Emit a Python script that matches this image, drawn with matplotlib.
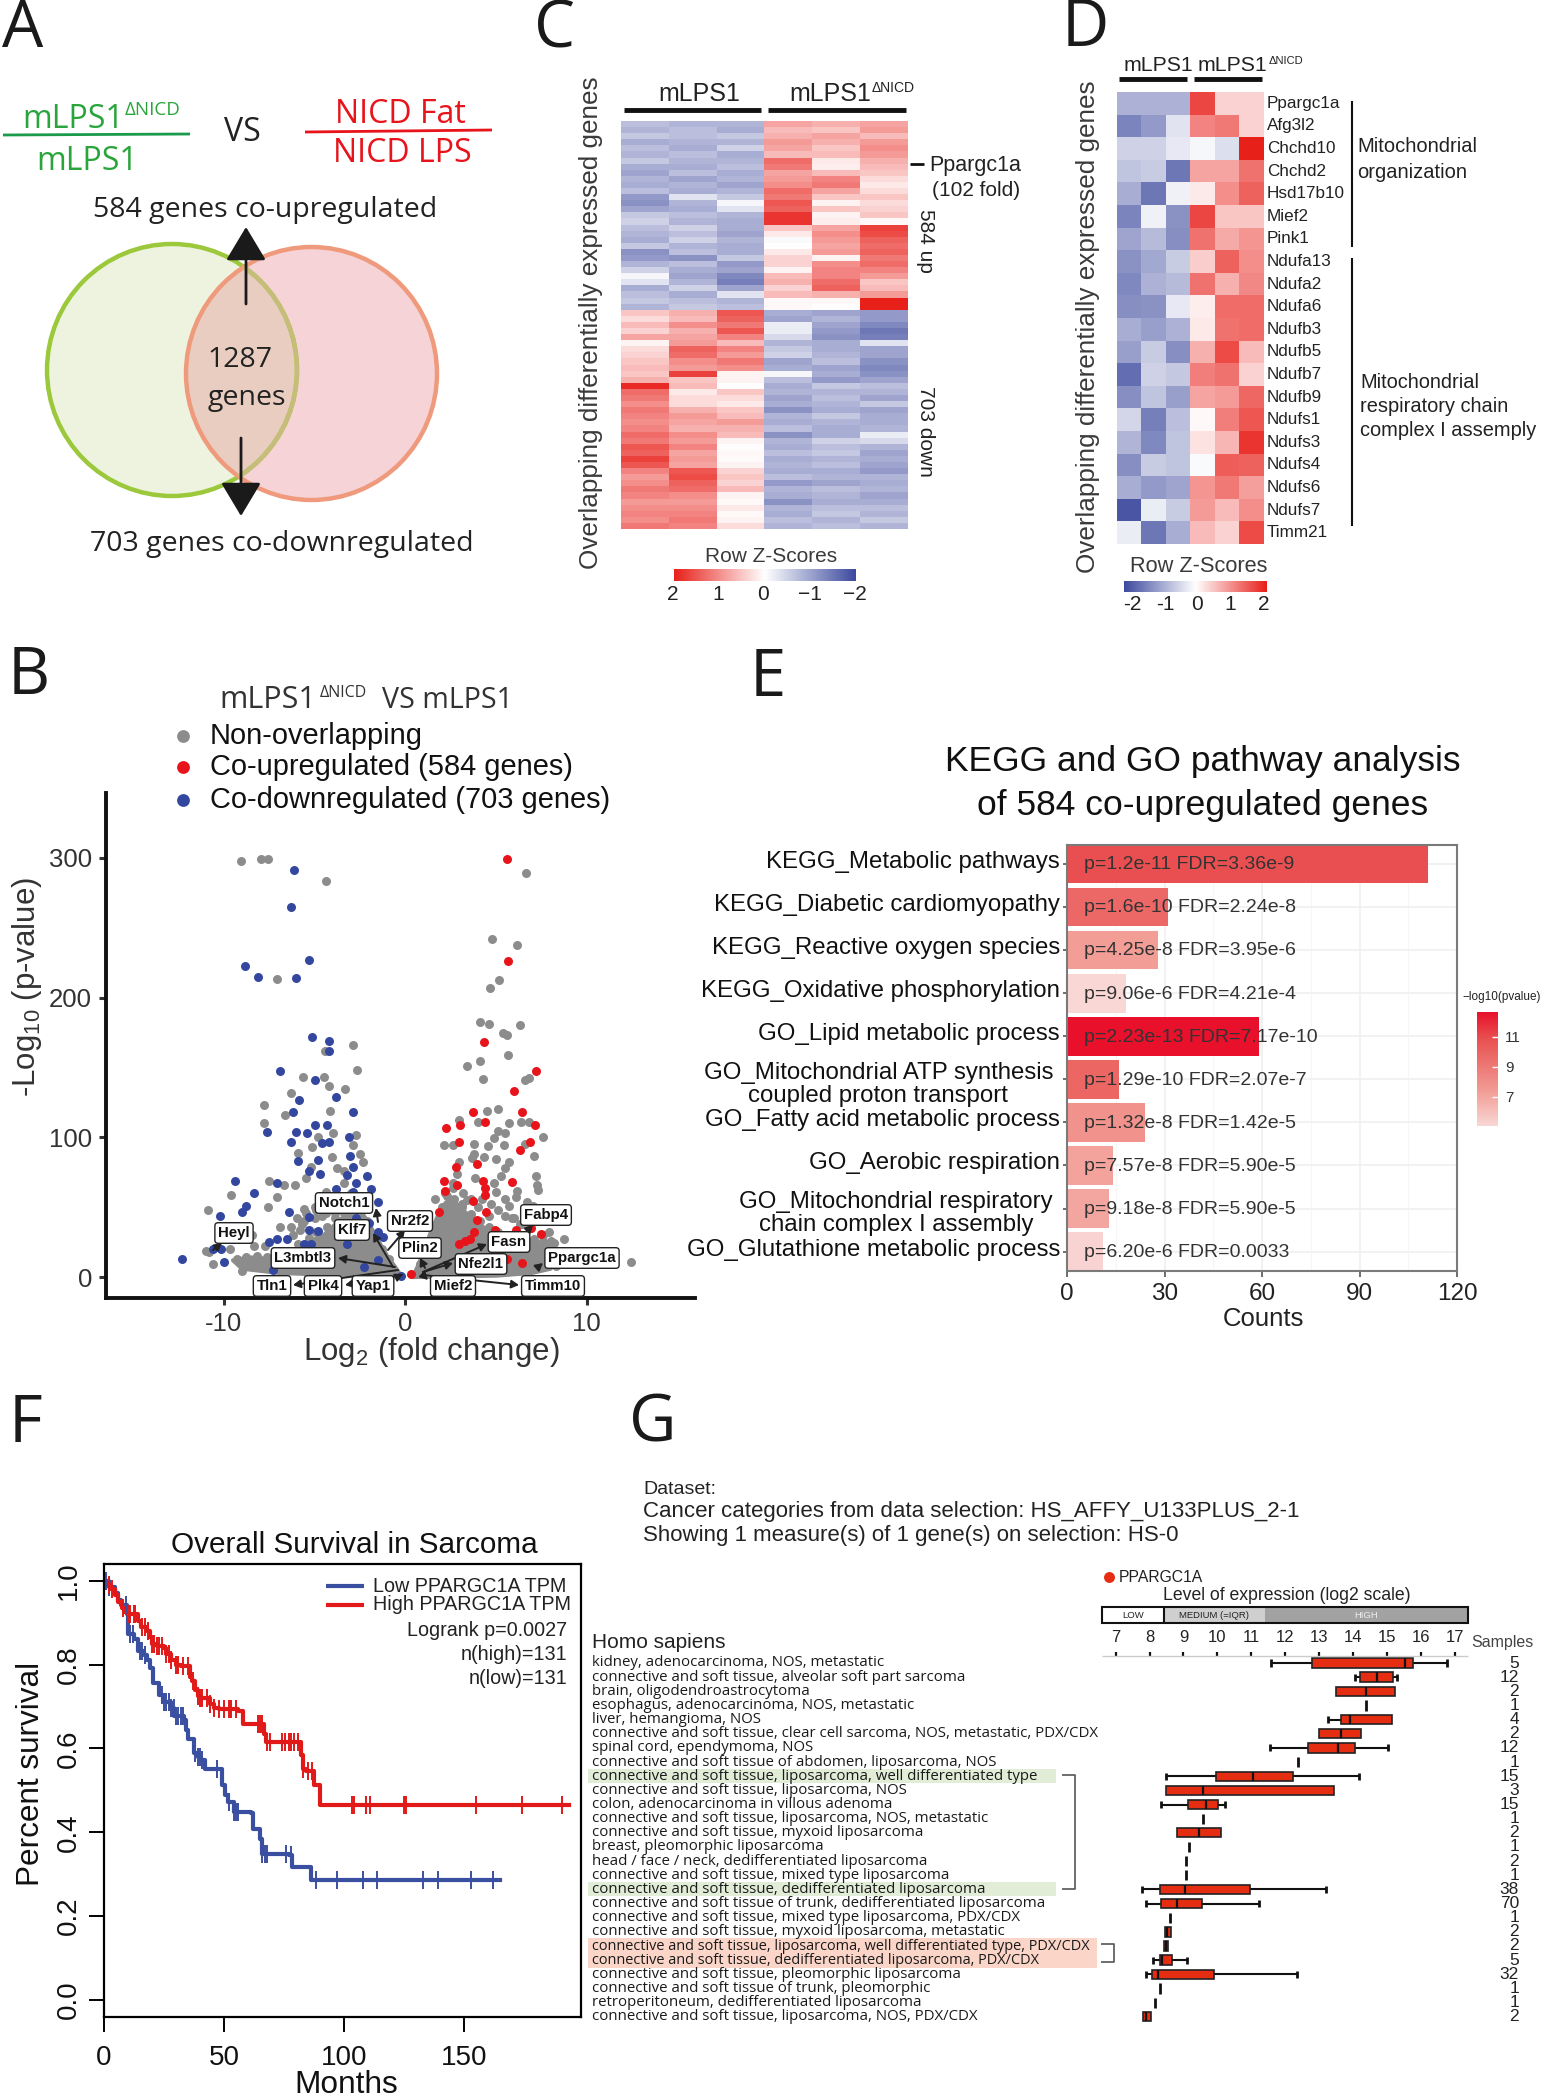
import numpy as np
import matplotlib
matplotlib.use("Agg")
import matplotlib.pyplot as plt
from matplotlib.colors import LinearSegmentedColormap, Normalize
from matplotlib.patches import Ellipse, Rectangle, FancyArrowPatch

W, H = 1541, 2100
plt.rcParams['font.family'] = ['Liberation Sans', 'DejaVu Sans']
plt.rcParams['mathtext.default'] = 'regular'
plt.rcParams['axes.unicode_minus'] = False
fig = plt.figure(figsize=(W / 100, H / 100), dpi=100, facecolor='white')

HUM = 'Open Sans'
INK = '#222222'

# ------------------------------------------------ data: panel C heat map
c_up = [
    [-.7, -.8, -.8, .8, .7, .8], [-.8, -.7, -.9, .6, .5, .9], [-.6, -.7, -.6, .7, .8, .6],
    [-.9, -.8, -.8, .9, .7, .9], [-.7, -.9, -.5, .8, .5, 1.0], [-.8, -.7, -.9, .6, .6, .9],
    [-.6, -.8, -.8, 1.3, .2, .7], [-.9, -.9, -.7, 1.2, .15, .6], [-1.0, -.7, -.9, .8, .6, .5],
    [-.8, -1.0, -.8, .9, 1.1, .3], [-.9, -.8, -1.0, 1.0, 1.2, .2], [-.7, -.9, -.8, 1.3, .8, .3],
    [-1.1, -.3, -.6, 1.2, .5, .5], [-1.2, -.8, -.1, 1.5, .1, .3], [-1.0, -.9, -.3, 1.4, .5, .4],
    [-.6, -.7, -.8, 1.8, .1, .5], [-.5, -.8, -.9, 1.8, .15, .05], [-.7, -.5, -.9, .5, .8, 1.7],
    [-.8, -.7, -1.0, .2, 1.0, 1.6], [-.9, -.5, -.8, -.05, .9, 1.4], [-.6, -.8, -.9, 0, .8, 1.3],
    [-1.2, -.7, -.9, .2, .9, 1.4], [-1.1, -1.2, -.6, .4, .1, 1.2], [-.8, -.7, -1.1, .4, 1.0, 1.3],
    [-.5, -.9, -1.0, .1, 1.1, 1.1], [-.1, -1.0, -1.3, .6, 1.1, .9], [-.3, -.8, -1.4, .7, 1.3, .5],
    [-.9, -.5, -1.0, .4, 1.4, .6], [-.7, -.9, -.3, .6, .7, .9], [-.6, -.7, -.8, .05, .05, 2.0],
    [-.8, -.6, -.7, .05, .02, 2.0],
]
c_down = [
    [.5, .7, 1.5, -.9, -1.0, -1.1], [.3, .6, 1.4, -1.0, -.8, -1.1], [.6, 1.0, 1.2, -.2, -1.0, -1.3],
    [.4, .7, 1.5, -.2, -1.1, -1.5], [.8, .8, 1.1, -.4, -1.2, -1.4], [.1, .9, .6, -.8, -.9, -.3],
    [.3, 1.4, 1.1, -.6, -.9, -1.0], [.4, 1.3, .9, -.5, -.8, -1.0], [.5, 1.0, 1.2, -1.0, -.7, -1.2],
    [.6, .9, 1.0, -.9, -1.0, -1.3], [.5, 1.7, .1, -.1, -.9, -1.2], [.7, .5, .1, -.7, -1.1, -1.0],
    [1.9, .6, .0, -.9, -.6, -.7], [1.3, .2, .5, -.8, -.8, -.8], [1.2, .3, .3, -1.0, -.7, -1.0],
    [1.0, .3, .2, -.9, -.8, -.6], [1.2, .7, .5, -1.2, -.9, -1.0], [1.1, .9, .6, -.8, -.6, -.9],
    [1.0, .8, .9, -.9, -.8, -.9], [1.1, .7, .7, -.7, -.9, -.8], [1.3, 1.0, .6, -1.2, -.9, -.2],
    [1.2, .9, .1, -.8, -.5, -.4], [1.5, 1.1, .03, -.9, -.7, -.8], [1.4, .8, .05, -.7, -.6, -1.0],
    [1.7, .9, .04, -.9, -.8, -.9], [1.5, .8, .1, -.8, -.7, -1.0], [1.1, 1.5, .4, -.9, -.9, -1.1],
    [.9, 1.6, .5, -.7, -.8, -.8], [1.0, 1.4, .4, -1.1, -1.0, -.9], [1.2, 1.3, .6, -.8, -.7, -.8],
    [1.1, 1.0, .1, -.9, -.8, -1.0], [.9, .9, .05, -1.2, -.9, -.9], [1.0, 1.0, .2, -.8, -.7, -.7],
    [1.1, 1.1, .05, -.9, -.6, -.8], [1.0, 1.2, .1, -.7, -.8, -.6], [1.2, 1.1, .3, -.8, -.7, -.8],
]
c_neg_ticks = ['2', '1', '0', '\u22121', '\u22122']

# ------------------------------------------------ data: panel D heat map
d_genes = ['Ppargc1a', 'Afg3l2', 'Chchd10', 'Chchd2', 'Hsd17b10', 'Mief2', 'Pink1', 'Ndufa13', 'Ndufa2',
           'Ndufa6', 'Ndufb3', 'Ndufb5', 'Ndufb7', 'Ndufb9', 'Ndufs1', 'Ndufs3', 'Ndufs4', 'Ndufs6',
           'Ndufs7', 'Timm21']
d_values = [
    [-.85, -.85, -.85, 1.65, .4, .4],
    [-1.35, -1.1, -.3, 1.1, 1.2, .4],
    [-.5, -.5, -.25, -.08, -.35, 2.0],
    [-.65, -.55, -1.5, .8, .8, 1.25],
    [-.9, -1.5, -.15, .18, 1.0, 1.4],
    [-1.35, -.15, -1.2, 1.65, .5, .5],
    [-1.0, -.75, -1.25, 1.25, .75, .95],
    [-1.2, -.95, -.55, .45, 1.4, 1.0],
    [-1.3, -.85, -.75, 1.25, .7, 1.05],
    [-1.25, -1.2, -.25, .15, 1.3, 1.3],
    [-.9, -1.05, -.85, .2, 1.25, 1.3],
    [-1.05, -.55, -1.25, .7, 1.6, .6],
    [-1.6, -.5, -.6, 1.15, 1.25, .4],
    [-1.25, -.65, -1.05, .8, .9, 1.35],
    [-.45, -1.4, -.7, .05, 1.15, 1.5],
    [-.8, -1.3, -.65, .25, .65, 1.8],
    [-1.25, -.55, -.65, -.05, 1.45, 1.4],
    [-.9, -1.1, -1.0, .95, 1.2, .85],
    [-1.85, -.2, -.55, .9, .6, 1.0],
    [-.2, -1.5, -.9, .6, .4, 1.6],
]

# ------------------------------------------------ data: panel B volcano
gray_x = [-9.07, -7.94, -7.58, -4.36, -7.08, -2.89, -4.43, -2.65, -5.63, -4.48, -4.19, -3.35, -6.3, -7.8, -4.16,
          -6.64, -7.82, -2.7, -4.8, -4.0, -2.89, -5.17, -5.94, -4.02, -2.5, -2.33, -5.2, -7.5, -6.67, -6.06,
          -5.46, -3.78, -3.4, -7.08, -9.63, -7.56, -10.88, -5.58, -4.62, -4.38, -3.4, -5.6, -5.8, -8.47, -8.35,
          -7.75, -11.0, -10.8, -9.67, -10.6, -9.0, -9.2, -4.9, -3.2, -2.6, -3.9, -3.0, -2.2, -6.9, -6.2,
          -9.3, -8.8, -8.2, -7.6, -7.0, -6.4, -5.9, -5.3, -4.9, -4.3, -3.9, -3.4, -2.9, -2.4, -2.1, -1.7, -1.3, -.9,
          -6.0, -5.5, -5.0, -4.5, -4.0, -3.5, -3.0, -2.5, -6.3, -5.7, -5.0, -4.4,
          4.79, 6.14, 5.15, 4.64, 6.64, 4.12, 4.6, 6.3, 5.37, 5.6, 5.63, 4.12, 3.37, 4.28, 6.57, 6.8, 5.13, 4.52,
          2.98, 4.02, 5.73, 6.38, 6.81, 5.13, 5.49, 7.56, 4.89, 2.12, 2.65, 3.8, 4.57, 5.42, 6.6, 3.8, 3.68, 4.33,
          5.0, 7.1, 2.98, 5.73, 5.49, 2.84, 3.85, 7.22, 7.27, 2.6, 6.14, 7.32, 5.0, 5.49, 7.05, 1.64, 5.73, 6.7,
          7.9, 8.76, 8.18, 12.42, 5.25, 6.09, 4.89, 3.4, 4.0, 4.6, 5.9, 6.3, 7.6, 8.0, 2.3, 3.1,
          .8, 1.2, 1.5, 1.9, 2.3, 2.7, 3.1, 3.6, 4.1, 4.6, 5.1, 5.6, 6.1, 6.6, 7.1, 7.6, 8.1, 8.5, 8.7, 8.3,
          2.2, 2.6, 3.2, 3.6, 4.2, 4.7, 5.1, 5.5, 6.0, 6.4, 6.8, 2.0]
gray_y = [298, 299.5, 299.5, 283.6, 213, 166, 162, 148, 143, 143, 137, 134.7, 132, 123, 119,
          116, 110, 102, 100.6, 103, 94.5, 93, 89, 86, 88, 82, 79, 69, 66, 66,
          71, 78, 76, 57, 59, 50, 48, 49, 44, 61, 67.5, 40, 34, 30, 22,
          22, 18.6, 18, 20, 9, 4.4, 12, 48, 58, 52, 46, 44, 38, 36, 30,
          13, 14, 15, 14, 16, 19, 24, 28, 32, 36, 42, 46, 50, 48, 40, 30, 20, 13,
          42, 46, 50, 52, 56, 58, 60, 56, 36, 38, 42, 46,
          241.7, 238, 212.7, 207, 289, 182.6, 181, 180.6, 175, 173, 159, 155, 151, 141.8, 141, 142.5, 120.5, 119,
          112.4, 111, 110, 111, 111, 104.7, 103, 100, 99.6, 94.5, 94.5, 95, 94, 94.5, 95, 88, 85.4, 86,
          84.4, 87, 82, 82, 78, 73.6, 71, 72.6, 66, 67.5, 61.5, 62.5, 60.8, 55.7, 50.6, 55.7, 50.6, 54,
          32, 27, 24.3, 10.8, 72.6, 57.4, 67.5, 55, 50, 44, 42, 38, 30, 26, 58, 52,
          9, 20, 30, 44, 52, 56, 50, 45, 40, 36, 32, 30, 30, 29, 27, 26, 24, 18, 12, 8,
          60, 64, 60, 56, 56, 52, 48, 44, 42, 38, 36, 50]
blue_x = [-6.15, -6.3, -5.3, -8.83, -8.1, -6.04, -5.15, -4.2, -4.2, -6.93, -5.0, -3.8, -5.87, -6.2, -2.9, -5.0, -4.3,
          -7.6, -6.04, -5.4, -3.1, -6.3, -4.6, -4.2, -5.9, -3.05, -4.8, -2.9, -5.3, -4.7, -3.2, -2.1, -2.7, -9.4,
          -7.1, -8.35, -3.8, -1.9, -2.9, -1.5, -8.8, -9.0, -6.4, -10.2, -5.3, -2.7, -2.0, -5.3, -4.8, -1.5, -1.25,
          -7.5, -7.1, -6.5, -5.6, -5.2, -3.2, -10.15, -10.6, -10.0, -12.3, -7.3, -2.3, -1.5, -0.25]
blue_y = [291.7, 265, 227, 223, 215, 214, 171.5, 169, 162, 147.5, 141, 129, 127, 118, 118, 109, 109,
          104, 104, 103, 100, 97, 96, 97, 83, 87, 84, 79, 76, 74, 73, 72.6, 67.5, 69,
          67, 60, 63, 63, 61, 54, 51, 46.6, 46.6, 44, 43, 42, 39, 34, 33, 32, 29,
          25, 27, 27, 24, 24, 24, 20, 20, 11, 13, 5, 7, 12, 1]
red_x = [5.6, 5.63, 4.33, 7.17, 6.0, 3.73, 6.43, 4.38, 3.03, 7.12, 2.26, 2.98, 6.84, 6.33, 3.97, 2.8, 4.3, 5.85, 2.14,
         4.36, 4.36, 2.84, 2.17, 3.7, 4.43, 1.83, 3.95, 6.93, 4.96, 6.09, 3.8, 7.46, 3.3, 2.96, 5.6, 6.45, 3.56, 0.3]
red_y = [299.5, 226, 168, 147.5, 133, 118, 118, 111, 109, 109, 107, 97, 97, 91, 81, 79, 68.5, 68, 68.5,
         63.5, 59, 66, 61.5, 54.7, 46.6, 46.6, 41, 35, 34, 34, 32, 31, 26, 24, 13, 10, 27, 2]
mass_left_x = [-9.5, -8.5, -7.5, -6.5, -5.5, -4.5, -3.5, -2.5, -2.0, -1.5, -1.0, -0.5, -0.2, -1.0, -5.0, -7.0, -9.0]
mass_left_y = [12, 14, 13, 16, 24, 30, 42, 48, 38, 26, 15, 6, 0, 1, 2, 3, 6]
mass_right_x = [.4, .7, 1.0, 1.4, 1.8, 2.2, 2.6, 3.0, 3.5, 4.0, 4.5, 5.0, 5.5, 6.0, 6.5, 7.0, 7.5, 8.0, 8.5, 8.0, 7.0, 5.0]
mass_right_y = [0, 8, 18, 32, 44, 52, 55, 50, 44, 38, 34, 30, 28, 28, 27, 26, 24, 22, 14, 6, 3, 1]
volcano_xticks = [-10, 0, 10]
volcano_yticks = [0, 100, 200, 300]
# gene name, label centre, arrow tail, arrow head (px of the figure)
gene_labels = [
    ('Notch1', (344, 1203), (378, 1222), (376, 1208)), ('Nr2f2', (410, 1221), (388, 1250), (405, 1230)),
    ('Klf7', (352, 1230), (393, 1267), (373, 1233)), ('Heyl', (234, 1233), (213, 1250), (222, 1243)),
    ('L3mbtl3', (303, 1258), (395, 1267), (338, 1258)), ('Plin2', (420, 1248), (425, 1268), (420, 1258)),
    ('Fabp4', (546, 1215), (523, 1235), (533, 1225)), ('Fasn', (509, 1242), (423, 1272), (487, 1244)),
    ('Nfe2l1', (481, 1264), (423, 1272), (453, 1263)), ('Ppargc1a', (582, 1258), (537, 1268), (543, 1263)),
    ('Tln1', (272, 1286), (398, 1270), (293, 1285)), ('Plk4', (323, 1286), (402, 1275), (345, 1285)),
    ('Yap1', (373, 1286), (397, 1277), (403, 1274)), ('Mief2', (453, 1286), (423, 1275), (428, 1280)),
    ('Timm10', (553, 1286), (423, 1275), (519, 1285)),
]

# ------------------------------------------------ data: panel E bars
e_terms = ['KEGG_Metabolic pathways', 'KEGG_Diabetic cardiomyopathy', 'KEGG_Reactive oxygen species',
           'KEGG_Oxidative phosphorylation', 'GO_Lipid metabolic process',
           'GO_Mitochondrial ATP synthesis\ncoupled proton transport', 'GO_Fatty acid metabolic process',
           'GO_Aerobic respiration', 'GO_Mitochondrial respiratory\nchain complex I assembly',
           'GO_Glutathione metabolic process']
e_counts = [111, 31, 28, 18, 59, 16, 24, 14, 13, 11]
e_pvalues = [1.2e-11, 1.6e-10, 4.25e-8, 9.06e-6, 2.23e-13, 1.29e-10, 1.32e-8, 7.57e-8, 9.18e-8, 6.20e-6]
e_notes = ['p=1.2e-11 FDR=3.36e-9', 'p=1.6e-10 FDR=2.24e-8', 'p=4.25e-8 FDR=3.95e-6', 'p=9.06e-6 FDR=4.21e-4',
           'p=2.23e-13 FDR=7.17e-10', 'p=1.29e-10 FDR=2.07e-7', 'p=1.32e-8 FDR=1.42e-5', 'p=7.57e-8 FDR=5.90e-5',
           'p=9.18e-8 FDR=5.90e-5', 'p=6.20e-6 FDR=0.0033']
e_ticks = [0, 30, 60, 90, 120]
e_cbar_ticks = [7, 9, 11]

# ------------------------------------------------ data: panel F survival
low_t = [0, 2, 4.6, 6, 7, 9.4, 10.2, 12.6, 14.2, 16.6, 18, 19, 20.6, 23, 24.6, 27.8, 29.3, 33.3, 34, 35, 37.3, 39, 40.5,
         42, 47.7, 49.3, 50.5, 51.7, 54, 61.2, 62, 65.2, 66, 77.2, 78.3, 86, 86.3, 165]
low_s = [1, .985, .97, .955, .942, .92, .874, .86, .833, .824, .81, .792, .755, .728, .71, .696, .678, .668, .645, .623, .59,
         .58, .573, .552, .55, .513, .49, .472, .449, .447, .408, .385, .349, .347, .317, .317, .287, .287]
low_censor = [1, 2, 9, 11, 12, 15, 16, 17, 24, 25, 26, 27, 28, 29, 30, 31, 32, 33, 38, 39, 40, 41, 47, 52, 54, 55, 56,
              66, 67, 68, 76, 78, 88.4, 97, 108, 113.9, 133, 139, 153, 162]
high_t = [0, 1.5, 3, 4.5, 6, 7.5, 8.5, 10, 14, 15.5, 18, 19, 20, 22, 25, 26, 28, 30, 32, 35.7, 36.5, 38, 39, 40, 44, 46,
          48, 55.7, 58, 66.8, 67.5, 82, 83, 84, 87.5, 90, 193.6]
high_s = [1, .99, .98, .965, .95, .935, .925, .92, .905, .89, .88, .865, .85, .845, .84, .825, .81, .80, .797, .77, .76,
          .74, .725, .72, .705, .696, .693, .69, .658, .635, .616, .585, .55, .547, .513, .465, .465]
high_censor = [2, 3.2, 8, 10, 11, 12.5, 13, 16, 17, 18.5, 20, 21, 22, 23, 24, 26, 27, 28, 30, 31, 33, 35, 37, 39, 40, 41,
               43, 44, 46, 48, 50, 52, 53, 55, 64, 65, 66, 68, 69, 74, 75.5, 77, 78, 79, 81, 83, 85, 86.5,
               103.5, 104.3, 109, 110.7, 125, 125.8, 155, 174, 191]
f_xticks = [0, 50, 100, 150]
f_yticks = [0.0, 0.2, 0.4, 0.6, 0.8, 1.0]

# ------------------------------------------------ data: panel G
g_rows = ['kidney, adenocarcinoma, NOS, metastatic', 'connective and soft tissue, alveolar soft part sarcoma',
          'brain, oligodendroastrocytoma', 'esophagus, adenocarcinoma, NOS, metastatic', 'liver, hemangioma, NOS',
          'connective and soft tissue, clear cell sarcoma, NOS, metastatic, PDX/CDX', 'spinal cord, ependymoma, NOS',
          'connective and soft tissue of abdomen, liposarcoma, NOS',
          'connective and soft tissue, liposarcoma, well differentiated type',
          'connective and soft tissue, liposarcoma, NOS', 'colon, adenocarcinoma in villous adenoma',
          'connective and soft tissue, liposarcoma, NOS, metastatic', 'connective and soft tissue, myxoid liposarcoma',
          'breast, pleomorphic liposarcoma', 'head / face / neck, dedifferentiated liposarcoma',
          'connective and soft tissue, mixed type liposarcoma', 'connective and soft tissue, dedifferentiated liposarcoma',
          'connective and soft tissue of trunk, dedifferentiated liposarcoma',
          'connective and soft tissue, mixed type liposarcoma, PDX/CDX',
          'connective and soft tissue, myxoid liposarcoma, metastatic',
          'connective and soft tissue, liposarcoma, well differentiated type, PDX/CDX',
          'connective and soft tissue, dedifferentiated liposarcoma, PDX/CDX',
          'connective and soft tissue, pleomorphic liposarcoma', 'connective and soft tissue of trunk, pleomorphic',
          'retroperitoneum, dedifferentiated liposarcoma', 'connective and soft tissue, liposarcoma, NOS, PDX/CDX']
g_samples = [5, 12, 2, 1, 4, 2, 12, 1, 15, 3, 15, 1, 2, 1, 2, 1, 38, 70, 1, 2, 2, 5, 32, 1, 1, 2]
# whisker low, q1, median, q3, whisker high (None: no such part of the mark)
g_stats = [
    (11.58, 12.78, 15.52, 15.78, 16.76), (14.06, 14.21, 14.7, 15.19, 15.29), (None, 13.51, 14.38, 15.24, None),
    (None, None, 14.38, None, None), (13.27, 13.65, 13.92, 15.14, None), (None, 13.01, 13.64, 14.24, None),
    (11.55, 12.68, 13.56, 14.06, 15.04), (None, None, 12.39, None, None), (8.48, 9.96, 11.06, 12.24, 14.19),
    (None, 8.48, 9.58, 13.44, None), (8.34, 9.14, 9.66, 10.01, 10.24), (None, None, 9.58, None, None),
    (None, 8.81, 9.46, 10.12, None), (None, None, 9.17, None, None), (None, None, 9.09, None, None),
    (None, None, 9.09, None, None), (7.77, 8.31, 9.05, 10.95, 13.21), (7.91, 8.35, 8.8, 9.55, 11.23),
    (None, None, 8.6, None, None), (None, 8.47, 8.53, 8.62, None), (None, 8.43, 8.48, 8.55, None),
    (8.09, 8.31, 8.38, 8.66, 9.12), (7.91, 8.08, 8.26, 9.9, 12.35), (None, None, 8.3, None, None),
    (None, None, 8.15, None, None), (None, 7.8, 7.91, 8.03, None),
]
g_ticks = list(range(7, 18))
g_green_rows = [8, 16]
g_orange_rows = [20, 21]


def ax_px(x0, y0, x1, y1, **kw):
    return fig.add_axes([x0 / W, 1 - y1 / H, (x1 - x0) / W, (y1 - y0) / H], **kw)


ov = ax_px(0, 0, W, H, zorder=20)
ov.set_xlim(0, W)
ov.set_ylim(H, 0)
ov.axis('off')
ov.patch.set_alpha(0)


def T(x, y, s, size=12, ha='left', va='center', color=INK, font=None, **kw):
    if font is not None:
        kw['family'] = [font, 'DejaVu Sans']
    return ov.text(x, y, s, fontsize=size, ha=ha, va=va, color=color, **kw)


def L(xs, ys, color='#111111', lw=1.0, **kw):
    ov.plot(xs, ys, color=color, lw=lw, solid_capstyle='butt', **kw)


def arrow(p0, p1, color='#1a1a1a', lw=1.5, ms=14, style='-|>,head_length=0.7,head_width=0.3'):
    ov.add_patch(FancyArrowPatch(p0, p1, arrowstyle=style, mutation_scale=ms, color=color, lw=lw,
                                 shrinkA=0, shrinkB=0, zorder=6))


for s, x, y in [('A', 2, 47), ('B', 8, 694), ('C', 534, 47), ('D', 1062, 46), ('E', 750, 696), ('F', 9, 1442), ('G', 629, 1442)]:
    T(x, y, s, size=47, va='baseline', font=HUM, color='#1a1a1a')

# ---------------------------------------------------------------- Panel A
GREEN_T = '#2aa53c'
RED_T = '#e8141c'
T(22, 128, 'mLPS1', size=23, va='baseline', color=GREEN_T, font=HUM)
T(125, 115, '\u0394NICD', size=13.5, va='baseline', color=GREEN_T, font=HUM)
L([3, 190], [135, 134], color='#1a9a4a', lw=2)
T(87, 170, 'mLPS1', size=23, ha='center', va='baseline', color=GREEN_T, font=HUM)
T(242, 141, 'VS', size=23, ha='center', va='baseline', color='#222222', font=HUM)
T(400, 123, 'NICD Fat', size=23, ha='center', va='baseline', color=RED_T, font=HUM)
L([305, 492], [132, 130], color=RED_T, lw=2)
T(402, 162, 'NICD LPS', size=23, ha='center', va='baseline', color=RED_T, font=HUM)
T(265, 217, '584 genes co-upregulated', size=20.5, ha='center', va='baseline', font=HUM)
T(282, 551, '703 genes co-downregulated', size=20.5, ha='center', va='baseline', font=HUM)
T(240, 367, '1287', size=20.5, ha='center', va='baseline', font=HUM, zorder=7)
T(247, 405, 'genes', size=20.5, ha='center', va='baseline', font=HUM, zorder=7)

g_c, g_w, g_h = (172, 370), 250, 252
r_c, r_w, r_h = (311.5, 373.5), 251, 253
green_fill = Ellipse(g_c, g_w, g_h, fc='#eef3df', ec='none', zorder=1)
red_fill = Ellipse(r_c, r_w, r_h, fc='#f5d3d6', ec='none', zorder=1)
ov.add_patch(green_fill)
ov.add_patch(red_fill)
inter = Ellipse(g_c, g_w, g_h, fc='#e9cdc0', ec='none', zorder=2)
ov.add_patch(inter)
inter.set_clip_path(Ellipse(r_c, r_w, r_h, transform=ov.transData))
ov.add_patch(Ellipse(g_c, g_w, g_h, fc='none', ec='#9cc83c', lw=3.2, zorder=3))
olive = Ellipse(g_c, g_w, g_h, fc='none', ec='#c7bd7a', lw=3.2, zorder=4)
ov.add_patch(olive)
olive.set_clip_path(Ellipse(r_c, r_w, r_h, transform=ov.transData))
ov.add_patch(Ellipse(r_c, r_w, r_h, fc='none', ec='#ef9a7c', lw=3.2, zorder=3.5))
arrow((246, 304), (246, 227), lw=2, ms=30, style='-|>,head_length=0.7,head_width=0.42')
arrow((241, 438), (241, 516), lw=2, ms=30, style='-|>,head_length=0.7,head_width=0.42')

# ---------------------------------------------------------------- Panels C and D: shared colour map
zmap = LinearSegmentedColormap.from_list('z', ['#3d4a9e', '#ffffff', '#e8201a'])
znorm = Normalize(-2, 2)
GRAYTXT = '#3a3a3a'

ax = ax_px(621, 121, 908, 529)
ax.imshow(np.array(c_up + c_down), cmap=zmap, norm=znorm, aspect='auto', interpolation='nearest')
ax.axis('off')
T(591, 323, 'Overlapping differentially expressed genes', size=18.8, ha='center', rotation=90, color=GRAYTXT)
L([624, 761], [110, 110], lw=3.5)
L([768, 906], [110, 110], lw=3.5)
T(699, 101, 'mLPS1', size=18, ha='center', va='baseline')
T(830, 101, 'mLPS1', size=18, ha='center', va='baseline')
T(872, 92, '\u0394NICD', size=10, va='baseline')
L([910, 924], [164, 164], lw=2)
T(929, 165, 'Ppargc1a', size=15.5)
T(976, 190, '(102 fold)', size=15, ha='center')
T(926, 241, '584 up', size=15, ha='center', rotation=-90)
T(926, 431, '703 down', size=15, ha='center', rotation=-90)
T(771, 557, 'Row Z-Scores', size=15, ha='center', color=GRAYTXT)
cb = ax_px(674, 569, 856, 581)
cb.imshow(np.linspace(2, -2, 256)[None, :], cmap=zmap, norm=znorm, aspect='auto')
cb.axis('off')
for x, s in zip([673, 718, 763, 810, 855], c_neg_ticks):
    T(x, 594, s, size=15, ha='center')

ax = ax_px(1117, 92, 1264, 544)
ax.imshow(np.array(d_values), cmap=zmap, norm=znorm, aspect='auto', interpolation='nearest')
ax.axis('off')
T(1088, 327, 'Overlapping differentially expressed genes', size=18.8, ha='center', rotation=90, color=GRAYTXT)
L([1119, 1187], [79, 79], lw=3.5)
L([1194, 1262], [79, 79], lw=3.5)
T(1158, 71, 'mLPS1', size=15.3, ha='center', va='baseline')
T(1232, 71, 'mLPS1', size=15.3, ha='center', va='baseline')
T(1269, 64, '\u0394NICD', size=8, va='baseline')
row_h = (544 - 92) / len(d_genes)
for i, g in enumerate(d_genes):
    T(1267, 92 + row_h * (i + .5), g, size=12.3)
L([1352.5, 1352.5], [101, 247], lw=1.5)
L([1352.5, 1352.5], [258, 526], lw=1.5)
T(1357, 147, 'Mitochondrial', size=14.5)
T(1357, 172, 'organization', size=14.5)
T(1360, 383, 'Mitochondrial', size=14.4)
T(1360, 407, 'respiratory chain', size=14.4)
T(1360, 431, 'complex I assemply', size=14.4)
T(1199, 566, 'Row Z-Scores', size=15.7, ha='center', color=GRAYTXT)
cb = ax_px(1124, 581, 1267, 592)
cb.imshow(np.linspace(-2, 2, 256)[None, :], cmap=zmap, norm=znorm, aspect='auto')
cb.axis('off')
for x, s in zip([1132, 1165, 1197, 1230, 1264], ['-2', '-1', '0', '1', '2']):
    T(x, 604, s, size=15, ha='center')

# ---------------------------------------------------------------- Panel B
ax = ax_px(106, 793, 695, 1298)
ax.set_xlim(-16.5, 15.96)
ax.set_ylim(-15, 346.5)
G_C, B_C, R_C = '#8c8c8c', '#34479f', '#e8141c'
ax.fill(mass_left_x, mass_left_y, color=G_C, zorder=2, lw=3, joinstyle='round')
ax.fill(mass_right_x, mass_right_y, color=G_C, zorder=2, lw=3, joinstyle='round')
ax.scatter(gray_x, gray_y, s=42, color=G_C, lw=0, zorder=2)
ax.scatter(blue_x, blue_y, s=42, color=B_C, lw=0, zorder=3)
ax.scatter(red_x, red_y, s=42, color=R_C, lw=0, zorder=3)
for sp in ('top', 'right'):
    ax.spines[sp].set_visible(False)
for sp in ('left', 'bottom'):
    ax.spines[sp].set_linewidth(2.8)
    ax.spines[sp].set_color('#111111')
ax.set_xticks(volcano_xticks)
ax.set_yticks(volcano_yticks)
ax.tick_params(length=5, width=2.2, color='#333333', labelsize=18.5, labelcolor='#333333', pad=5)
for name, centre, tail, head in gene_labels:
    arrow(tail, head, color='#222222', lw=1.4, ms=8, style='-|>,head_length=0.55,head_width=0.3')
    T(centre[0], centre[1], name, size=10.8, ha='center', weight='bold', color='#111111', zorder=8,
      bbox=dict(boxstyle='round,pad=0.22', fc='white', ec='#222222', lw=1))
T(27, 987, '-Log$_{10}$ (p-value)', size=22.5, ha='center', rotation=90, color='#333333')
T(431, 1352, 'Log$_{2}$ (fold change)', size=22.5, ha='center', color='#333333')
T(219, 708, 'mLPS1', size=22, va='baseline', font=HUM, color='#333333')
T(320, 697, '\u0394NICD', size=11.5, va='baseline', font=HUM, color='#333333')
T(382, 708, 'VS mLPS1', size=20.6, va='baseline', font=HUM, color='#333333')
for y, c, s in [(736, G_C, 'Non-overlapping'), (767, R_C, 'Co-upregulated (584 genes)'), (800, B_C, 'Co-downregulated (703 genes)')]:
    ov.scatter([183], [y], s=85, color=c, lw=0)
    T(210, y, s, size=20.9, color='#111111')

# ---------------------------------------------------------------- Panel E
ax = ax_px(1067, 845, 1457, 1271.4)
emap = LinearSegmentedColormap.from_list('e', [(0, '#f9d7d5'), (.31, '#f29c95'), (.77, '#e95050'), (1, '#e8102b')])
enorm = Normalize(5.04, 12.65)
scores = -np.log10(e_pvalues)
pos = np.arange(len(e_terms))
ax.barh(pos, e_counts, height=.9, color=emap(enorm(scores)), zorder=2)
ax.set_xlim(0, 120)
ax.set_ylim(9.46, -.44)
ax.set_xticks(e_ticks)
ax.set_xticks([15, 45, 75, 105], minor=True)
ax.set_yticks(pos)
ax.set_yticklabels([])
ax.tick_params(axis='x', which='major', length=4, width=1.2, color='#555555', labelsize=17.5, labelcolor='#222222', pad=4)
ax.tick_params(axis='x', which='minor', length=0)
ax.tick_params(axis='y', length=3, width=1.2, color='#555555')
ax.grid(True, which='major', color='#f0f0f0', lw=1.2, zorder=0)
ax.grid(True, which='minor', axis='x', color='#f6f6f6', lw=.8, zorder=0)
ax.set_axisbelow(True)
for sp in ax.spines.values():
    sp.set_color('#7a7a7a')
    sp.set_linewidth(1.5)
for i, term in enumerate(e_terms):
    multi = '\n' in term
    ax.annotate(term, xy=(0, i), xycoords=('axes fraction', 'data'), xytext=(-14, -5) if multi else (-7, 2),
                textcoords='offset pixels', ha='right', va='center', fontsize=17.3, color='#111111',
                multialignment='center', linespacing=1.08)
    ax.text(5.2, i + .02, e_notes[i], fontsize=14, va='center', ha='left', color='#333333', zorder=4)
T(1203, 761.5, 'KEGG and GO pathway analysis', size=25.5, ha='center', color='#111111')
T(1203, 805, 'of 584 co-upregulated genes', size=25.5, ha='center', color='#111111')
T(1263, 1319, 'Counts', size=18.5, ha='center', color='#222222')
T(1462, 997, '\u2212log10(pvalue)', size=8.5, color='#222222')
cb = ax_px(1477, 1012, 1498, 1126)
cb.imshow(np.linspace(12.65, 5.04, 256)[:, None], cmap=emap, norm=enorm, aspect='auto',
          extent=(0, 1, 5.04, 12.65))
cb.set_xticks([])
cb.set_yticks(e_cbar_ticks)
cb.yaxis.tick_right()
cb.tick_params(axis='y', length=4, width=1, color='white', direction='in', labelsize=11, labelcolor='#333333', pad=5)
for sp in cb.spines.values():
    sp.set_visible(False)

# ---------------------------------------------------------------- Panel F
ax = ax_px(104, 1564, 580.6, 2017)
ax.set_xlim(0, 198.6)
ax.set_ylim(-.0406, 1.04)
BL, RD = '#3a4fa0', '#e11919'
ax.step(low_t, low_s, where='post', color=BL, lw=3)
ax.step(high_t, high_s, where='post', color=RD, lw=3)
for ts, ss, cens, col in [(low_t, low_s, low_censor, BL), (high_t, high_s, high_censor, RD)]:
    idx = np.searchsorted(ts, cens, side='right') - 1
    ax.plot(cens, np.array(ss)[idx], ls='none', marker='|', ms=13, mew=1.4, color=col)
ax.set_xticks(f_xticks)
ax.set_yticks(f_yticks)
ax.set_yticklabels(['%.1f' % v for v in f_yticks], rotation=90, va='center')
ax.tick_params(length=11, width=1.4, labelsize=20, labelcolor='#111111')
ax.tick_params(axis='x', pad=9)
ax.tick_params(axis='y', pad=5)
for sp in ax.spines.values():
    sp.set_linewidth(1.6)
T(354, 1545, 'Overall Survival in Sarcoma', size=21.4, ha='center', color='#111111')
T(346, 2085, 'Months', size=22.8, ha='center', color='#111111')
T(31, 1774, 'Percent survival', size=22.7, ha='center', rotation=90, color='#111111')
L([326, 364], [1586, 1586], color=BL, lw=3)
L([326, 364], [1605, 1605], color=RD, lw=3)
T(373, 1586, 'Low PPARGC1A TPM', size=14.2)
T(373, 1605, 'High PPARGC1A TPM', size=14.2)
T(567.5, 1631, 'Logrank p=0.0027', size=14.2, ha='right')
T(567.5, 1655, 'n(high)=131', size=14.2, ha='right')
T(567.5, 1679, 'n(low)=131', size=14.2, ha='right')

# ---------------------------------------------------------------- Panel G
T(643, 1489, 'Dataset:', size=14)
T(643, 1512, 'Cancer categories from data selection: HS_AFFY_U133PLUS_2-1', size=16)
T(643, 1536, 'Showing 1 measure(s) of 1 gene(s) on selection: HS-0', size=16)
T(592, 1643, 'Homo sapiens', size=15)
row_y = [1663 + 14.15 * i for i in range(len(g_rows))]
for i in g_green_rows:
    ov.add_patch(Rectangle((588, row_y[i] - 7), 468, 14, fc='#e2edd8', ec='none', zorder=0))
ov.add_patch(Rectangle((588, 1938), 509, 30, fc='#fad5c8', ec='none', zorder=0))
for i, s in enumerate(g_rows):
    T(592, row_y[i], s, size=10.45 if i in g_orange_rows else 10.85, font=HUM, color='#1a1a1a')
L([1062, 1075, 1075, 1062], [1775, 1775, 1889, 1889], color='#555555', lw=1.2)
L([1101, 1114, 1114, 1101], [1944, 1944, 1962, 1962], color='#555555', lw=1.2)

ax = ax_px(1102, 1656, 1468, 2032)
ax.set_xlim(6.6, 17.39)
ax.set_ylim((2032 - 1663) / 14.15, (1656 - 1663) / 14.15)
ax.axis('off')
for i, (lo, q1, med, q3, hi) in enumerate(g_stats):
    if q1 is None:
        ax.vlines(med, i - .36, i + .36, color='#111111', lw=2)
        continue
    if lo is not None:
        ax.hlines(i, lo, q1, color='#111111', lw=1.5)
        ax.vlines(lo, i - .25, i + .25, color='#111111', lw=2)
    if hi is not None:
        ax.hlines(i, q3, hi, color='#111111', lw=1.5)
        ax.vlines(hi, i - .25, i + .25, color='#111111', lw=2)
    ax.barh(i, q3 - q1, left=q1, height=.66, color='#e52d12', edgecolor='#222222', lw=1.2, zorder=3)
    ax.vlines(med, i - .33, i + .33, color='#111111', lw=1.6, zorder=4)
for v in g_ticks:
    xp = 1115.7 + (v - 7) * 33.9
    T(xp, 1638, str(v), size=12, ha='center', color='#222222')
    L([xp, xp], [1652, 1655.5], color='#111111', lw=1.6)
L([1102, 1468], [1656, 1656], color='#cccccc', lw=1)
ov.scatter([1109], [1577], s=62, color='#e52d12', lw=0)
T(1119, 1577, 'PPARGC1A', size=11.3, color='#222222')
T(1287, 1596, 'Level of expression (log2 scale)', size=12.7, ha='center', color='#222222')
for x0, x1, col in [(1102, 1164, 'white'), (1164, 1265, '#cfcfcf'), (1265, 1468, '#a2a2a2')]:
    ov.add_patch(Rectangle((x0, 1607), x1 - x0, 16, fc=col, ec='none', zorder=1))
ov.add_patch(Rectangle((1102, 1607), 366, 16, fc='none', ec='#111111', lw=1.5, zorder=2))
L([1164, 1164], [1607, 1623], lw=1.5)
T(1133, 1615.5, 'LOW', size=6.8, ha='center', color='#222222')
T(1214, 1615.5, 'MEDIUM (=IQR)', size=6.8, ha='center', color='#222222')
T(1366, 1615.5, 'HIGH', size=6.8, ha='center', color='#eeeeee')
T(1471, 1643, 'Samples', size=11.5, color='#444444')
for i, n in enumerate(g_samples):
    T(1519, row_y[i], str(n), size=12.5, ha='right', color='#222222')

fig.savefig('out.png', dpi=100, facecolor='white')
